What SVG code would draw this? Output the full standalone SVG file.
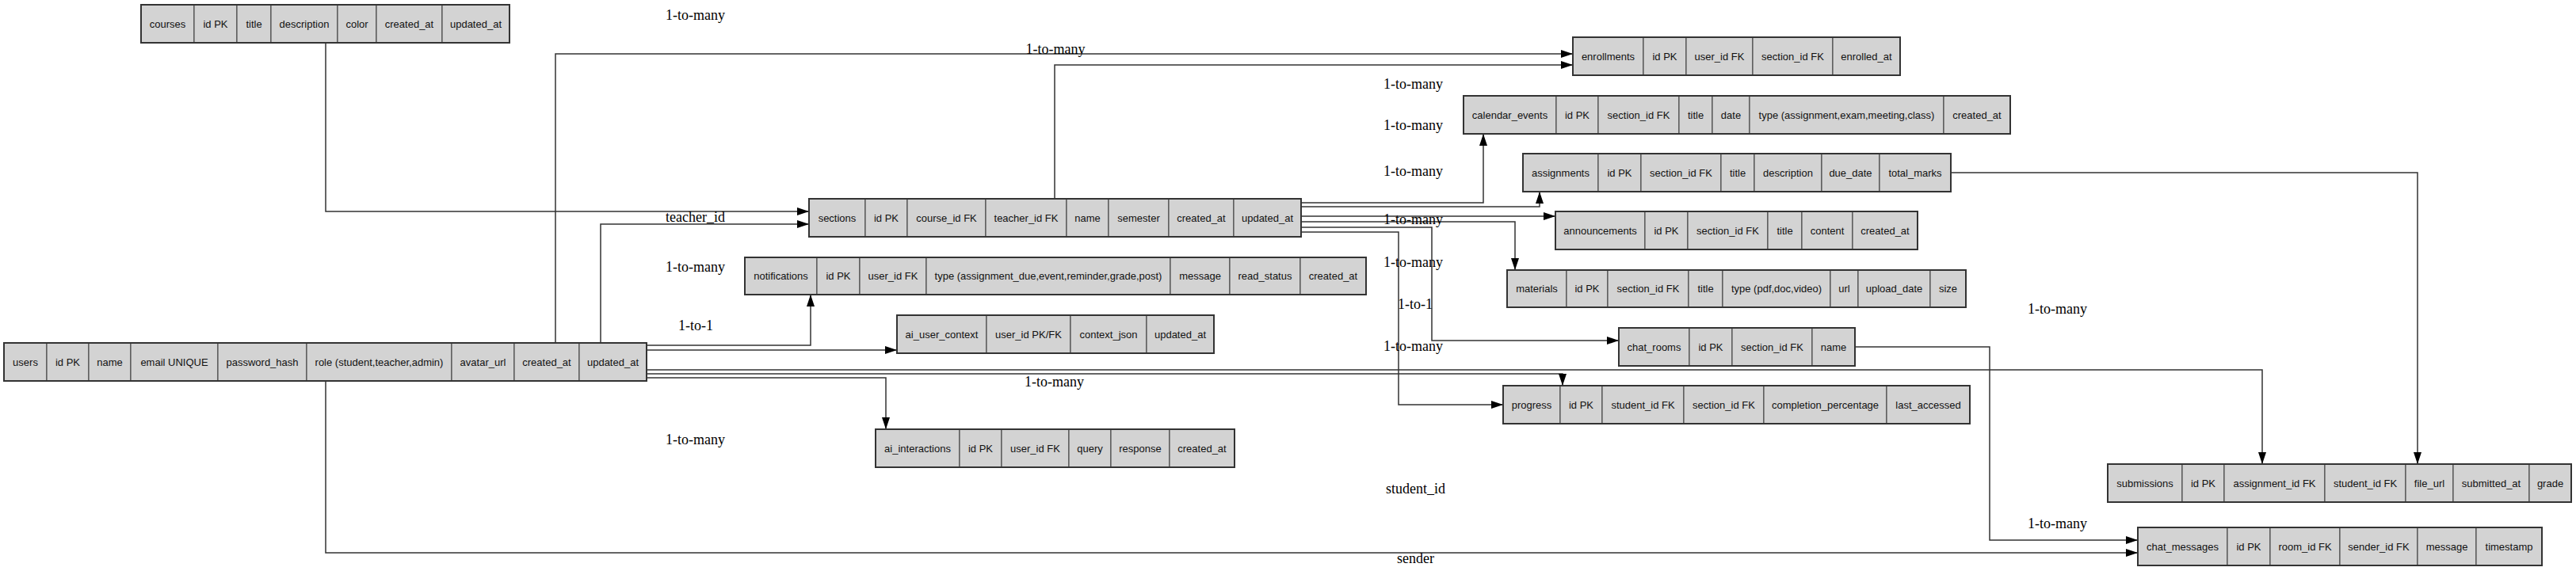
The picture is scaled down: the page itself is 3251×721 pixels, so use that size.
<svg xmlns="http://www.w3.org/2000/svg" width="3251" height="721" viewBox="0 0 3251 721">
<style>
.c{fill:#d3d3d3;stroke:#3a3a3a;stroke-width:1}
.o{fill:none;stroke:#333;stroke-width:2}
.t{font-family:"Liberation Sans",Arial,sans-serif;font-size:13px;fill:#111;text-anchor:middle}
.l{font-family:"Liberation Serif","Times New Roman",serif;font-size:18px;fill:#000}
.e{fill:none;stroke:#333;stroke-width:1.5}
</style>
<defs>
<marker id="a" markerUnits="userSpaceOnUse" markerWidth="15" markerHeight="10" refX="15" refY="5" orient="auto">
<path d="M0,0 L15,5 L0,10 z" fill="#000"/>
</marker>
</defs>
<rect width="3251" height="721" fill="#fff"/>
<g id="connectors">
<path class="e" marker-end="url(#a)" d="M411,54 V267 H1021"/>
<path class="e" marker-end="url(#a)" d="M701,433 V68 H1985"/>
<path class="e" marker-end="url(#a)" d="M758,433 V283 H1021"/>
<path class="e" marker-end="url(#a)" d="M1331,251 V82 H1985"/>
<path class="e" marker-end="url(#a)" d="M816,436 H1023 V372"/>
<path class="e" marker-end="url(#a)" d="M816,442 H1132"/>
<path class="e" marker-end="url(#a)" d="M816,467 H2855 V586"/>
<path class="e" marker-end="url(#a)" d="M816,472 H1972 V487"/>
<path class="e" marker-end="url(#a)" d="M816,477 H1118 V542"/>
<path class="e" marker-end="url(#a)" d="M411,481 V698 H2698"/>
<path class="e" marker-end="url(#a)" d="M1642,256 H1872 V169"/>
<path class="e" marker-end="url(#a)" d="M1642,261 H1943 V242"/>
<path class="e" marker-end="url(#a)" d="M1642,273 H1963"/>
<path class="e" marker-end="url(#a)" d="M1642,280 H1912 V341"/>
<path class="e" marker-end="url(#a)" d="M1642,287 H1807 V430 H2043"/>
<path class="e" marker-end="url(#a)" d="M1642,293 H1765 V511 H1897"/>
<path class="e" marker-end="url(#a)" d="M2462,218 H3051 V586"/>
<path class="e" marker-end="url(#a)" d="M2341,438 H2511 V682 H2698"/>
</g>
<g id="labels">
<text class="l" x="840" y="25">1-to-many</text>
<text class="l" x="1332" y="68" text-anchor="middle">1-to-many</text>
<text class="l" x="840" y="280">teacher_id</text>
<text class="l" x="840" y="343">1-to-many</text>
<text class="l" x="856" y="417">1-to-1</text>
<text class="l" x="1293" y="488">1-to-many</text>
<text class="l" x="840" y="561">1-to-many</text>
<text class="l" x="1746" y="112">1-to-many</text>
<text class="l" x="1746" y="164">1-to-many</text>
<text class="l" x="1746" y="222">1-to-many</text>
<text class="l" x="1746" y="283">1-to-many</text>
<text class="l" x="1746" y="337">1-to-many</text>
<text class="l" x="1764" y="390">1-to-1</text>
<text class="l" x="1746" y="443">1-to-many</text>
<text class="l" x="1749" y="623">student_id</text>
<text class="l" x="1763" y="711">sender</text>
<text class="l" x="2559" y="396">1-to-many</text>
<text class="l" x="2559" y="667">1-to-many</text>
</g>
<g id="courses">
<rect class="c" x="178" y="6" width="67" height="48"/><rect class="c" x="245" y="6" width="54" height="48"/><rect class="c" x="299" y="6" width="43" height="48"/><rect class="c" x="342" y="6" width="84" height="48"/><rect class="c" x="426" y="6" width="49" height="48"/><rect class="c" x="475" y="6" width="83" height="48"/><rect class="c" x="558" y="6" width="85" height="48"/>
<rect class="o" x="178" y="6" width="465" height="48"/>
<text class="t" x="211.5" y="34.5">courses</text><text class="t" x="272" y="34.5">id PK</text><text class="t" x="320.5" y="34.5">title</text><text class="t" x="384" y="34.5">description</text><text class="t" x="450.5" y="34.5">color</text><text class="t" x="516.5" y="34.5">created_at</text><text class="t" x="600.5" y="34.5">updated_at</text>
</g>
<g id="users">
<rect class="c" x="5" y="433" width="54" height="48"/><rect class="c" x="59" y="433" width="53" height="48"/><rect class="c" x="112" y="433" width="53" height="48"/><rect class="c" x="165" y="433" width="110" height="48"/><rect class="c" x="275" y="433" width="112" height="48"/><rect class="c" x="387" y="433" width="183" height="48"/><rect class="c" x="570" y="433" width="79" height="48"/><rect class="c" x="649" y="433" width="82" height="48"/><rect class="c" x="731" y="433" width="85" height="48"/>
<rect class="o" x="5" y="433" width="811" height="48"/>
<text class="t" x="32" y="461.5">users</text><text class="t" x="85.5" y="461.5">id PK</text><text class="t" x="138.5" y="461.5">name</text><text class="t" x="220" y="461.5">email UNIQUE</text><text class="t" x="331" y="461.5">password_hash</text><text class="t" x="478.5" y="461.5">role (student,teacher,admin)</text><text class="t" x="609.5" y="461.5">avatar_url</text><text class="t" x="690" y="461.5">created_at</text><text class="t" x="773.5" y="461.5">updated_at</text>
</g>
<g id="sections">
<rect class="c" x="1021" y="251" width="71" height="48"/><rect class="c" x="1092" y="251" width="53" height="48"/><rect class="c" x="1145" y="251" width="99" height="48"/><rect class="c" x="1244" y="251" width="102" height="48"/><rect class="c" x="1346" y="251" width="53" height="48"/><rect class="c" x="1399" y="251" width="76" height="48"/><rect class="c" x="1475" y="251" width="82" height="48"/><rect class="c" x="1557" y="251" width="85" height="48"/>
<rect class="o" x="1021" y="251" width="621" height="48"/>
<text class="t" x="1056.5" y="279.5">sections</text><text class="t" x="1118.5" y="279.5">id PK</text><text class="t" x="1194.5" y="279.5">course_id FK</text><text class="t" x="1295" y="279.5">teacher_id FK</text><text class="t" x="1372.5" y="279.5">name</text><text class="t" x="1437" y="279.5">semester</text><text class="t" x="1516" y="279.5">created_at</text><text class="t" x="1599.5" y="279.5">updated_at</text>
</g>
<g id="notifications">
<rect class="c" x="940" y="325" width="91" height="47"/><rect class="c" x="1031" y="325" width="54" height="47"/><rect class="c" x="1085" y="325" width="84" height="47"/><rect class="c" x="1169" y="325" width="308" height="47"/><rect class="c" x="1477" y="325" width="75" height="47"/><rect class="c" x="1552" y="325" width="89" height="47"/><rect class="c" x="1641" y="325" width="83" height="47"/>
<rect class="o" x="940" y="325" width="784" height="47"/>
<text class="t" x="985.5" y="353">notifications</text><text class="t" x="1058" y="353">id PK</text><text class="t" x="1127" y="353">user_id FK</text><text class="t" x="1323" y="353">type (assignment_due,event,reminder,grade,post)</text><text class="t" x="1514.5" y="353">message</text><text class="t" x="1596.5" y="353">read_status</text><text class="t" x="1682.5" y="353">created_at</text>
</g>
<g id="ai_user_context">
<rect class="c" x="1132" y="398" width="113" height="48"/><rect class="c" x="1245" y="398" width="106" height="48"/><rect class="c" x="1351" y="398" width="96" height="48"/><rect class="c" x="1447" y="398" width="85" height="48"/>
<rect class="o" x="1132" y="398" width="400" height="48"/>
<text class="t" x="1188.5" y="426.5">ai_user_context</text><text class="t" x="1298" y="426.5">user_id PK/FK</text><text class="t" x="1399" y="426.5">context_json</text><text class="t" x="1489.5" y="426.5">updated_at</text>
</g>
<g id="ai_interactions">
<rect class="c" x="1105" y="542" width="106" height="48"/><rect class="c" x="1211" y="542" width="53" height="48"/><rect class="c" x="1264" y="542" width="85" height="48"/><rect class="c" x="1349" y="542" width="53" height="48"/><rect class="c" x="1402" y="542" width="74" height="48"/><rect class="c" x="1476" y="542" width="82" height="48"/>
<rect class="o" x="1105" y="542" width="453" height="48"/>
<text class="t" x="1158" y="570.5">ai_interactions</text><text class="t" x="1237.5" y="570.5">id PK</text><text class="t" x="1306.5" y="570.5">user_id FK</text><text class="t" x="1375.5" y="570.5">query</text><text class="t" x="1439" y="570.5">response</text><text class="t" x="1517" y="570.5">created_at</text>
</g>
<g id="enrollments">
<rect class="c" x="1985" y="47" width="89" height="48"/><rect class="c" x="2074" y="47" width="54" height="48"/><rect class="c" x="2128" y="47" width="84" height="48"/><rect class="c" x="2212" y="47" width="101" height="48"/><rect class="c" x="2313" y="47" width="85" height="48"/>
<rect class="o" x="1985" y="47" width="413" height="48"/>
<text class="t" x="2029.5" y="75.5">enrollments</text><text class="t" x="2101" y="75.5">id PK</text><text class="t" x="2170" y="75.5">user_id FK</text><text class="t" x="2262.5" y="75.5">section_id FK</text><text class="t" x="2355.5" y="75.5">enrolled_at</text>
</g>
<g id="calendar_events">
<rect class="c" x="1847" y="121" width="117" height="48"/><rect class="c" x="1964" y="121" width="53" height="48"/><rect class="c" x="2017" y="121" width="102" height="48"/><rect class="c" x="2119" y="121" width="42" height="48"/><rect class="c" x="2161" y="121" width="47" height="48"/><rect class="c" x="2208" y="121" width="245" height="48"/><rect class="c" x="2453" y="121" width="84" height="48"/>
<rect class="o" x="1847" y="121" width="690" height="48"/>
<text class="t" x="1905.5" y="149.5">calendar_events</text><text class="t" x="1990.5" y="149.5">id PK</text><text class="t" x="2068" y="149.5">section_id FK</text><text class="t" x="2140" y="149.5">title</text><text class="t" x="2184.5" y="149.5">date</text><text class="t" x="2330.5" y="149.5">type (assignment,exam,meeting,class)</text><text class="t" x="2495" y="149.5">created_at</text>
</g>
<g id="assignments">
<rect class="c" x="1922" y="194" width="95" height="48"/><rect class="c" x="2017" y="194" width="54" height="48"/><rect class="c" x="2071" y="194" width="101" height="48"/><rect class="c" x="2172" y="194" width="42" height="48"/><rect class="c" x="2214" y="194" width="85" height="48"/><rect class="c" x="2299" y="194" width="73" height="48"/><rect class="c" x="2372" y="194" width="90" height="48"/>
<rect class="o" x="1922" y="194" width="540" height="48"/>
<text class="t" x="1969.5" y="222.5">assignments</text><text class="t" x="2044" y="222.5">id PK</text><text class="t" x="2121.5" y="222.5">section_id FK</text><text class="t" x="2193" y="222.5">title</text><text class="t" x="2256.5" y="222.5">description</text><text class="t" x="2335.5" y="222.5">due_date</text><text class="t" x="2417" y="222.5">total_marks</text>
</g>
<g id="announcements">
<rect class="c" x="1963" y="267" width="113" height="48"/><rect class="c" x="2076" y="267" width="54" height="48"/><rect class="c" x="2130" y="267" width="101" height="48"/><rect class="c" x="2231" y="267" width="43" height="48"/><rect class="c" x="2274" y="267" width="64" height="48"/><rect class="c" x="2338" y="267" width="82" height="48"/>
<rect class="o" x="1963" y="267" width="457" height="48"/>
<text class="t" x="2019.5" y="295.5">announcements</text><text class="t" x="2103" y="295.5">id PK</text><text class="t" x="2180.5" y="295.5">section_id FK</text><text class="t" x="2252.5" y="295.5">title</text><text class="t" x="2306" y="295.5">content</text><text class="t" x="2379" y="295.5">created_at</text>
</g>
<g id="materials">
<rect class="c" x="1902" y="341" width="75" height="47"/><rect class="c" x="1977" y="341" width="52" height="47"/><rect class="c" x="2029" y="341" width="102" height="47"/><rect class="c" x="2131" y="341" width="43" height="47"/><rect class="c" x="2174" y="341" width="136" height="47"/><rect class="c" x="2310" y="341" width="35" height="47"/><rect class="c" x="2345" y="341" width="91" height="47"/><rect class="c" x="2436" y="341" width="45" height="47"/>
<rect class="o" x="1902" y="341" width="579" height="47"/>
<text class="t" x="1939.5" y="369">materials</text><text class="t" x="2003" y="369">id PK</text><text class="t" x="2080" y="369">section_id FK</text><text class="t" x="2152.5" y="369">title</text><text class="t" x="2242" y="369">type (pdf,doc,video)</text><text class="t" x="2327.5" y="369">url</text><text class="t" x="2390.5" y="369">upload_date</text><text class="t" x="2458.5" y="369">size</text>
</g>
<g id="chat_rooms">
<rect class="c" x="2043" y="414" width="89" height="48"/><rect class="c" x="2132" y="414" width="54" height="48"/><rect class="c" x="2186" y="414" width="101" height="48"/><rect class="c" x="2287" y="414" width="54" height="48"/>
<rect class="o" x="2043" y="414" width="298" height="48"/>
<text class="t" x="2087.5" y="442.5">chat_rooms</text><text class="t" x="2159" y="442.5">id PK</text><text class="t" x="2236.5" y="442.5">section_id FK</text><text class="t" x="2314" y="442.5">name</text>
</g>
<g id="progress">
<rect class="c" x="1897" y="487" width="72" height="48"/><rect class="c" x="1969" y="487" width="53" height="48"/><rect class="c" x="2022" y="487" width="103" height="48"/><rect class="c" x="2125" y="487" width="101" height="48"/><rect class="c" x="2226" y="487" width="155" height="48"/><rect class="c" x="2381" y="487" width="105" height="48"/>
<rect class="o" x="1897" y="487" width="589" height="48"/>
<text class="t" x="1933" y="515.5">progress</text><text class="t" x="1995.5" y="515.5">id PK</text><text class="t" x="2073.5" y="515.5">student_id FK</text><text class="t" x="2175.5" y="515.5">section_id FK</text><text class="t" x="2303.5" y="515.5">completion_percentage</text><text class="t" x="2433.5" y="515.5">last_accessed</text>
</g>
<g id="submissions">
<rect class="c" x="2660" y="586" width="94" height="48"/><rect class="c" x="2754" y="586" width="53" height="48"/><rect class="c" x="2807" y="586" width="127" height="48"/><rect class="c" x="2934" y="586" width="102" height="48"/><rect class="c" x="3036" y="586" width="60" height="48"/><rect class="c" x="3096" y="586" width="96" height="48"/><rect class="c" x="3192" y="586" width="53" height="48"/>
<rect class="o" x="2660" y="586" width="585" height="48"/>
<text class="t" x="2707" y="614.5">submissions</text><text class="t" x="2780.5" y="614.5">id PK</text><text class="t" x="2870.5" y="614.5">assignment_id FK</text><text class="t" x="2985" y="614.5">student_id FK</text><text class="t" x="3066" y="614.5">file_url</text><text class="t" x="3144" y="614.5">submitted_at</text><text class="t" x="3218.5" y="614.5">grade</text>
</g>
<g id="chat_messages">
<rect class="c" x="2698" y="666" width="113" height="48"/><rect class="c" x="2811" y="666" width="54" height="48"/><rect class="c" x="2865" y="666" width="88" height="48"/><rect class="c" x="2953" y="666" width="98" height="48"/><rect class="c" x="3051" y="666" width="74" height="48"/><rect class="c" x="3125" y="666" width="83" height="48"/>
<rect class="o" x="2698" y="666" width="510" height="48"/>
<text class="t" x="2754.5" y="694.5">chat_messages</text><text class="t" x="2838" y="694.5">id PK</text><text class="t" x="2909" y="694.5">room_id FK</text><text class="t" x="3002" y="694.5">sender_id FK</text><text class="t" x="3088" y="694.5">message</text><text class="t" x="3166.5" y="694.5">timestamp</text>
</g>
</svg>
